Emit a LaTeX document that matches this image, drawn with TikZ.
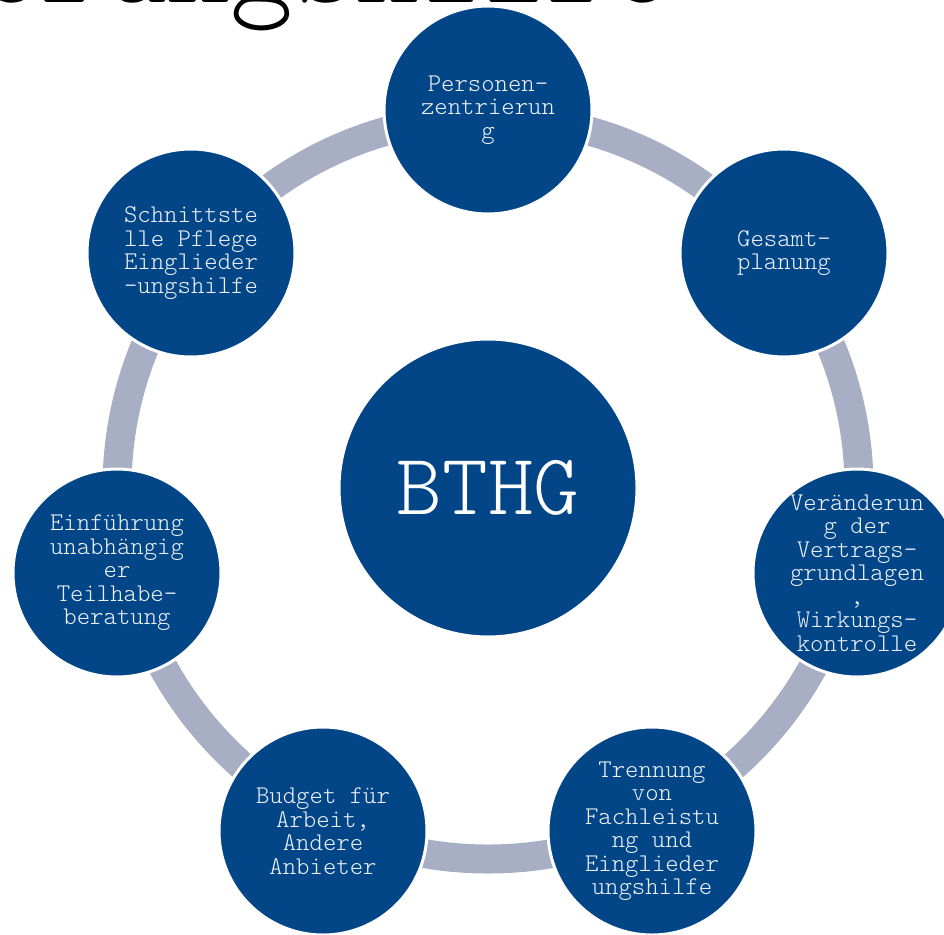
\documentclass[tikz,border=0pt]{standalone}
\usepackage{fontspec}
\newfontfamily\lmlight{Latin Modern Mono Light}
\definecolor{bblue}{RGB}{2,70,136}
\definecolor{ringgray}{RGB}{168,174,196}
\definecolor{ltext}{RGB}{238,242,248}
\tikzset{
  sat/.style={circle, fill=bblue, draw=white, line width=3pt, minimum size=208pt,
    inner sep=0pt, text=ltext, align=center, font=\lmlight\fontsize{25.5}{23.5}\selectfont},
  hub/.style={circle, fill=bblue, draw=white, line width=3pt, minimum size=298pt,
    inner sep=0pt, text=white, font=\lmlight\fontsize{87}{90}\selectfont},
  ringline/.style={draw=ringgray, line width=29pt},
  titletext/.style={anchor=base west, inner sep=0pt, outer sep=0pt, text=black, font=\lmlight\fontsize{120}{120}\selectfont}
}
\begin{document}
\begin{tikzpicture}[x=1pt, y=-1pt]
\useasboundingbox (0,0) rectangle (944,934);
\clip (0,0) rectangle (944,934);
\node[titletext] (title) at (-22,3) {erungshilfe};
\coordinate (ctr) at (488,488);
\draw[ringline] (ctr) circle (371);
\node[hub] (bthg) at (ctr) {BTHG};
\node[sat] (n1) at (488,110) {Personen-\\zentrierun\\g};
\node[sat] (n2) at (784,253) {Gesamt-\\planung};
\node[sat] (n3) at (857,573) {Veränderun\\g der\\Vertrags-\\grundlagen\\,\\Wirkungs-\\kontrolle};
\node[sat] (n4) at (652,831) {Trennung\\von\\Fachleistu\\ng und\\Einglieder\\ungshilfe};
\node[sat] (n5) at (323,831) {Budget für\\Arbeit,\\Andere\\Anbieter};
\node[sat] (n6) at (117,573) {Einführung\\unabhängig\\er\\Teilhabe-\\beratung};
\node[sat] (n7) at (191,253) {Schnittste\\lle Pflege\\Einglieder\\-ungshilfe};
\end{tikzpicture}
\end{document}
